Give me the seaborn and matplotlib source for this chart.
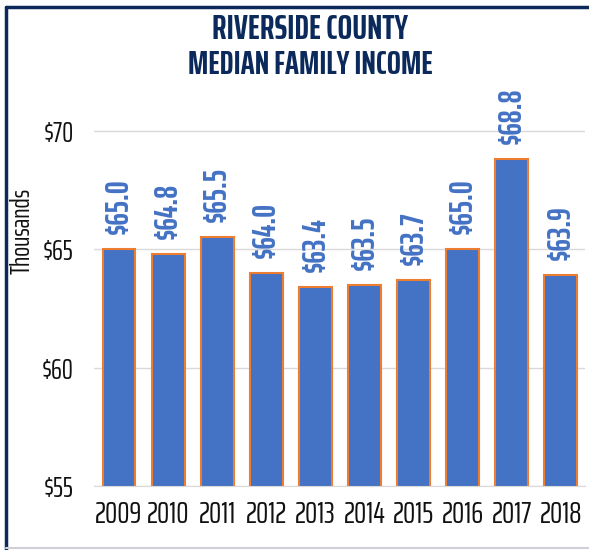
import pandas as pd
import seaborn as sns
import matplotlib.pyplot as plt
from matplotlib.lines import Line2D
from matplotlib.ticker import FuncFormatter

# Median family income, thousands of dollars
years = ["2009", "2010", "2011", "2012", "2013", "2014", "2015", "2016", "2017", "2018"]
income = [65.0, 64.8, 65.5, 64.0, 63.4, 63.5, 63.7, 65.0, 68.8, 63.9]

df = pd.DataFrame({"year": years, "income": income})

sns.set_style("white")
plt.rcParams["font.family"] = ["Saira ExtraCondensed", "DejaVu Sans"]

navy = "#0B2A5B"
blue = "#4472C4"
orange = "#ED7D31"

fig = plt.figure(figsize=(5.89, 5.50), dpi=100)
ax = fig.add_axes([0.1604, 0.1164, 0.8336, 0.71])

sns.barplot(data=df, x="year", y="income", color=blue, width=0.67,
            edgecolor=orange, linewidth=1.5, saturation=1, ax=ax)

ax.set_ylim(55, 71.5)
ax.set_yticks([55, 60, 65, 70])
ax.yaxis.set_major_formatter(FuncFormatter(lambda v, p: f"${v:.0f}"))
ax.grid(axis="y", color="#D9D9D9", linewidth=1)
ax.set_axisbelow(True)
for s in ["top", "right", "left"]:
    ax.spines[s].set_visible(False)
ax.spines["bottom"].set_color("#D9D9D9")
ax.tick_params(axis="y", labelsize=20, length=0, pad=15, labelcolor="#111111")
ax.tick_params(axis="x", labelsize=22, length=0, pad=10, labelcolor="#111111")
ax.set_xlabel("")
ax.set_ylabel("Thousands", fontsize=19, color="#111111")
ax.yaxis.set_label_coords(-0.121, 0.653)

for i, v in enumerate(income):
    ax.annotate(f"${v:.1f}", (i, v), xytext=(0, 11), textcoords="offset points",
                rotation=90, ha="center", va="bottom", fontsize=23,
                color=blue, fontweight="bold", annotation_clip=False)

fig.text(0.527, 0.946, "RIVERSIDE COUNTY", ha="center", va="center",
         fontsize=25, fontweight="bold", color=navy)
fig.text(0.527, 0.882, "MEDIAN FAMILY INCOME", ha="center", va="center",
         fontsize=24, fontweight="bold", color=navy)

# outer frame: navy left/top, grey bottom
fig.add_artist(Line2D([0.011, 0.011], [0.0, 0.988], color=navy, linewidth=2.5,
                      transform=fig.transFigure))
fig.add_artist(Line2D([0.011, 1.0], [0.988, 0.988], color=navy, linewidth=2.5,
                      transform=fig.transFigure))
fig.add_artist(Line2D([0.011, 1.0], [0.004, 0.004], color="#D0D0D8", linewidth=1.5,
                      transform=fig.transFigure))

plt.savefig("out.png", dpi=100)
